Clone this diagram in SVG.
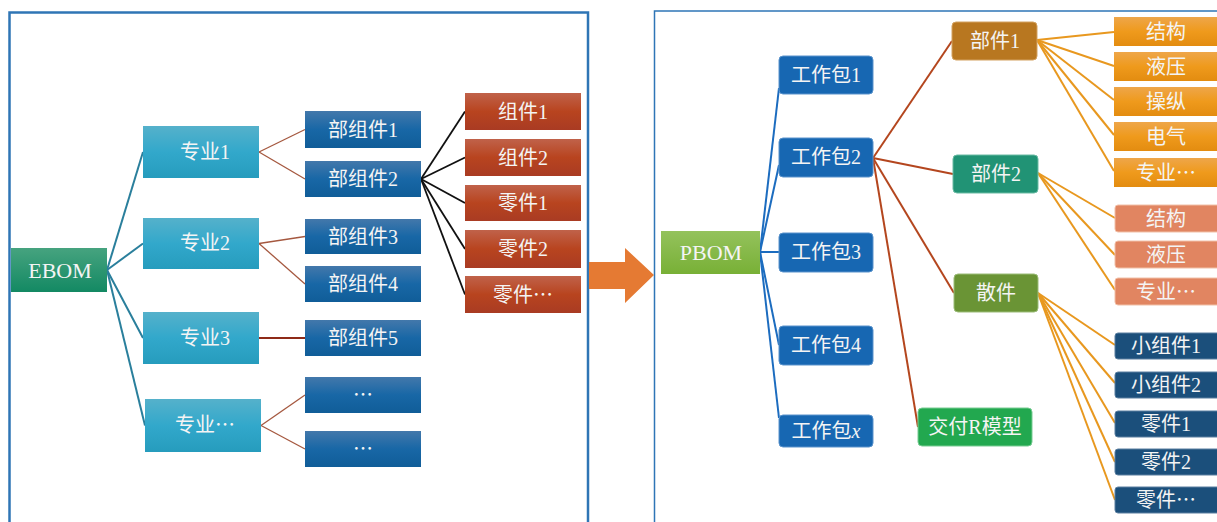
<svg xmlns="http://www.w3.org/2000/svg" width="1217" height="522" viewBox="0 0 1217 522">
  <defs>
    <linearGradient id="gEbom" x1="0" y1="0" x2="0" y2="1">
      <stop offset="0" stop-color="#46a37f"/>
      <stop offset="1" stop-color="#138963"/>
    </linearGradient>
    <linearGradient id="gMajor" x1="0" y1="0" x2="0" y2="1">
      <stop offset="0" stop-color="#55b1cb"/>
      <stop offset="0.5" stop-color="#32a8cb"/>
      <stop offset="1" stop-color="#269cbd"/>
    </linearGradient>
    <linearGradient id="gSub" x1="0" y1="0" x2="0" y2="1">
      <stop offset="0" stop-color="#4378ab"/>
      <stop offset="0.5" stop-color="#1867a6"/>
      <stop offset="1" stop-color="#105d98"/>
    </linearGradient>
    <linearGradient id="gPart" x1="0" y1="0" x2="0" y2="1">
      <stop offset="0" stop-color="#c0624a"/>
      <stop offset="0.5" stop-color="#b8441f"/>
      <stop offset="1" stop-color="#a93b23"/>
    </linearGradient>
    <linearGradient id="gPbom" x1="0" y1="0" x2="0" y2="1">
      <stop offset="0" stop-color="#94c25c"/>
      <stop offset="1" stop-color="#78b036"/>
    </linearGradient>
    <linearGradient id="gOrange" x1="0" y1="0" x2="0" y2="1">
      <stop offset="0" stop-color="#eea64a"/>
      <stop offset="0.5" stop-color="#ef9a1c"/>
      <stop offset="1" stop-color="#e38c10"/>
    </linearGradient>
  </defs>
  <style>
    text { font-family: "Liberation Serif", "Noto Sans CJK SC", serif; font-size: 20px; fill: #f4f4f4; text-anchor: middle; }
    .big { font-size: 22px; }
    .el { font-family: "Noto Sans CJK SC", sans-serif; }
    .frameL { fill: none; stroke: #2f75b5; stroke-width: 2.5; }
    .frameR { fill: none; stroke: #2e75b6; stroke-width: 1.5; }
    .cTeal { stroke: #2a7f9c; stroke-width: 2; fill: none; }
    .cBrown { stroke: #a5583f; stroke-width: 1.3; fill: none; }
    .cRed { stroke: #8e2a18; stroke-width: 1.8; fill: none; }
    .cBlack { stroke: #111111; stroke-width: 1.8; fill: none; }
    .cBlue { stroke: #1c6cbf; stroke-width: 2; fill: none; }
    .cRust { stroke: #b4461e; stroke-width: 2; fill: none; }
    .cOrange { stroke: #e8981f; stroke-width: 2; fill: none; }
    .ebom { fill: url(#gEbom); }
    .major { fill: url(#gMajor); }
    .sub { fill: url(#gSub); }
    .part { fill: url(#gPart); }
    .pbom { fill: url(#gPbom); }
    .wp { fill: #1767b2; stroke: #5a93cc; stroke-width: 1; }
    .comp1 { fill: #b87720; stroke: #d3a260; stroke-width: 1; }
    .comp2 { fill: #219375; stroke: #6bbba4; stroke-width: 1; }
    .loose { fill: #6a9435; stroke: #9bbc78; stroke-width: 1; }
    .deliv { fill: #22a84f; stroke: #78cc93; stroke-width: 1; }
    .orange { fill: url(#gOrange); }
    .salmon { fill: #e18561; stroke: #f1c0a8; stroke-width: 1; }
    .navy { fill: #1b4f7b; stroke: #5b7fa0; stroke-width: 1; }
  </style>

  <!-- panel frames -->
  <rect class="frameL" x="9.5" y="12.5" width="578.5" height="530"/>
  <rect class="frameR" x="654.5" y="11" width="580" height="530"/>

  <!-- transition arrow -->
  <polygon points="589,262 625,262 625,248 654,275 625,303 625,289 589,289" fill="#e57a33"/>

  <!-- connectors -->
  <g id="connectors">
    <!-- EBOM to majors -->
    <line class="cTeal" x1="107" y1="270" x2="143" y2="152"/>
    <line class="cTeal" x1="107" y1="270" x2="143" y2="243.5"/>
    <line class="cTeal" x1="107" y1="270" x2="143" y2="338"/>
    <line class="cTeal" x1="107" y1="270" x2="145" y2="425.5"/>
    <!-- majors to sub-assemblies -->
    <line class="cBrown" x1="259" y1="152" x2="305" y2="129.5"/>
    <line class="cBrown" x1="259" y1="152" x2="305" y2="179"/>
    <line class="cBrown" x1="259" y1="243.5" x2="305" y2="236.5"/>
    <line class="cBrown" x1="259" y1="243.5" x2="305" y2="284"/>
    <line class="cRed" x1="259" y1="338" x2="305" y2="338"/>
    <line class="cBrown" x1="261" y1="425.5" x2="305" y2="395"/>
    <line class="cBrown" x1="261" y1="425.5" x2="305" y2="449"/>
    <!-- sub-assembly 2 to parts -->
    <line class="cBlack" x1="421" y1="179" x2="465" y2="111.5"/>
    <line class="cBlack" x1="421" y1="179" x2="465" y2="157.5"/>
    <line class="cBlack" x1="421" y1="179" x2="465" y2="203"/>
    <line class="cBlack" x1="421" y1="179" x2="465" y2="249"/>
    <line class="cBlack" x1="421" y1="179" x2="465" y2="294.5"/>
    <!-- PBOM to work packages -->
    <line class="cBlue" x1="760" y1="252" x2="779" y2="88"/>
    <line class="cBlue" x1="760" y1="252" x2="779" y2="165"/>
    <line class="cBlue" x1="760" y1="252" x2="779" y2="252"/>
    <line class="cBlue" x1="760" y1="252" x2="779" y2="345"/>
    <line class="cBlue" x1="760" y1="252" x2="779" y2="418"/>
    <!-- work package 2 to components -->
    <line class="cRust" x1="873" y1="158" x2="952" y2="41"/>
    <line class="cRust" x1="873" y1="158" x2="953" y2="174"/>
    <line class="cRust" x1="873" y1="158" x2="954" y2="293"/>
    <line class="cRust" x1="873" y1="158" x2="918" y2="427"/>
    <!-- component 1 to disciplines -->
    <line class="cOrange" x1="1037" y1="40" x2="1114" y2="32"/>
    <line class="cOrange" x1="1037" y1="40" x2="1114" y2="66"/>
    <line class="cOrange" x1="1037" y1="40" x2="1114" y2="100"/>
    <line class="cOrange" x1="1037" y1="40" x2="1114" y2="135"/>
    <line class="cOrange" x1="1037" y1="40" x2="1114" y2="171"/>
    <!-- component 2 to disciplines -->
    <line class="cOrange" x1="1038" y1="173" x2="1115" y2="218"/>
    <line class="cOrange" x1="1038" y1="173" x2="1115" y2="255"/>
    <line class="cOrange" x1="1038" y1="173" x2="1115" y2="290"/>
    <!-- loose parts to items -->
    <line class="cOrange" x1="1038" y1="293" x2="1115" y2="345"/>
    <line class="cOrange" x1="1038" y1="293" x2="1115" y2="383"/>
    <line class="cOrange" x1="1038" y1="293" x2="1115" y2="423"/>
    <line class="cOrange" x1="1038" y1="293" x2="1115" y2="462"/>
    <line class="cOrange" x1="1038" y1="293" x2="1115" y2="500"/>
  </g>

  <!-- EBOM tree -->
  <g id="ebom"><rect class="ebom" x="11" y="248" width="96" height="44"/><text class="big" x="60" y="278">EBOM</text></g>

  <g id="major1"><rect class="major" x="143" y="126" width="116" height="52"/><text x="205" y="159">专业1</text></g>
  <g id="major2"><rect class="major" x="143" y="218" width="116" height="51"/><text x="205" y="250">专业2</text></g>
  <g id="major3"><rect class="major" x="143" y="312" width="116" height="52"/><text x="205" y="345">专业3</text></g>
  <g id="majorN"><rect class="major" x="145" y="399" width="116" height="53"/><text x="205" y="432">专业<tspan class="el">…</tspan></text></g>

  <g id="sub1"><rect class="sub" x="305" y="111" width="116" height="37"/><text x="363" y="137">部组件1</text></g>
  <g id="sub2"><rect class="sub" x="305" y="161" width="116" height="36"/><text x="363" y="186">部组件2</text></g>
  <g id="sub3"><rect class="sub" x="305" y="219" width="116" height="35"/><text x="363" y="244">部组件3</text></g>
  <g id="sub4"><rect class="sub" x="305" y="266" width="116" height="36"/><text x="363" y="291">部组件4</text></g>
  <g id="sub5"><rect class="sub" x="305" y="320" width="116" height="36"/><text x="363" y="345">部组件5</text></g>
  <g id="subN1"><rect class="sub" x="305" y="377" width="116" height="36"/><text class="el" x="363" y="402">…</text></g>
  <g id="subN2"><rect class="sub" x="305" y="431" width="116" height="36"/><text class="el" x="363" y="456">…</text></g>

  <g id="part1"><rect class="part" x="465" y="93" width="116" height="37"/><text x="523" y="119">组件1</text></g>
  <g id="part2"><rect class="part" x="465" y="139" width="116" height="37"/><text x="523" y="165">组件2</text></g>
  <g id="part3"><rect class="part" x="465" y="185" width="116" height="36"/><text x="523" y="210">零件1</text></g>
  <g id="part4"><rect class="part" x="465" y="230" width="116" height="38"/><text x="523" y="256">零件2</text></g>
  <g id="part5"><rect class="part" x="465" y="276" width="116" height="37"/><text x="523" y="302">零件<tspan class="el">…</tspan></text></g>

  <!-- PBOM tree -->
  <g id="pbom"><rect class="pbom" x="661" y="231" width="99" height="43"/><text class="big" x="711" y="260">PBOM</text></g>

  <g id="wp1"><rect class="wp" x="779" y="56" width="94" height="38" rx="4"/><text x="826" y="82">工作包1</text></g>
  <g id="wp2"><rect class="wp" x="779" y="138" width="94" height="39" rx="4"/><text x="826" y="164">工作包2</text></g>
  <g id="wp3"><rect class="wp" x="779" y="233" width="94" height="39" rx="4"/><text x="826" y="259">工作包3</text></g>
  <g id="wp4"><rect class="wp" x="779" y="326" width="94" height="39" rx="4"/><text x="826" y="352">工作包4</text></g>
  <g id="wpx"><rect class="wp" x="779" y="415" width="94" height="32" rx="4"/><text x="826" y="438">工作包<tspan font-style="italic">x</tspan></text></g>

  <g id="comp1"><rect class="comp1" x="952" y="22" width="85" height="38" rx="4"/><text x="995" y="48">部件1</text></g>
  <g id="comp2"><rect class="comp2" x="953" y="155" width="85" height="38" rx="4"/><text x="996" y="181">部件2</text></g>
  <g id="loose"><rect class="loose" x="954" y="274" width="84" height="38" rx="4"/><text x="996" y="300">散件</text></g>
  <g id="deliver"><rect class="deliv" x="918" y="408" width="114" height="38" rx="4"/><text x="975" y="434">交付R模型</text></g>

  <g id="c1a"><rect class="orange" x="1114" y="17" width="110" height="29"/><text x="1166" y="39">结构</text></g>
  <g id="c1b"><rect class="orange" x="1114" y="52" width="110" height="29"/><text x="1166" y="74">液压</text></g>
  <g id="c1c"><rect class="orange" x="1114" y="87" width="110" height="29"/><text x="1166" y="109">操纵</text></g>
  <g id="c1d"><rect class="orange" x="1114" y="122" width="110" height="29"/><text x="1166" y="144">电气</text></g>
  <g id="c1e"><rect class="orange" x="1114" y="158" width="110" height="29"/><text x="1166" y="180">专业<tspan class="el">…</tspan></text></g>

  <g id="c2a"><rect class="salmon" x="1115" y="205" width="110" height="27" rx="3"/><text x="1166" y="226">结构</text></g>
  <g id="c2b"><rect class="salmon" x="1115" y="241" width="110" height="27" rx="3"/><text x="1166" y="262">液压</text></g>
  <g id="c2c"><rect class="salmon" x="1115" y="278" width="110" height="27" rx="3"/><text x="1166" y="299">专业<tspan class="el">…</tspan></text></g>

  <g id="l1"><rect class="navy" x="1115" y="333" width="110" height="26" rx="3"/><text x="1166" y="353">小组件1</text></g>
  <g id="l2"><rect class="navy" x="1115" y="372" width="110" height="26" rx="3"/><text x="1166" y="392">小组件2</text></g>
  <g id="l3"><rect class="navy" x="1115" y="411" width="110" height="26" rx="3"/><text x="1166" y="431">零件1</text></g>
  <g id="l4"><rect class="navy" x="1115" y="449" width="110" height="26" rx="3"/><text x="1166" y="469">零件2</text></g>
  <g id="l5"><rect class="navy" x="1115" y="487" width="110" height="26" rx="3"/><text x="1166" y="507">零件<tspan class="el">…</tspan></text></g>
</svg>
